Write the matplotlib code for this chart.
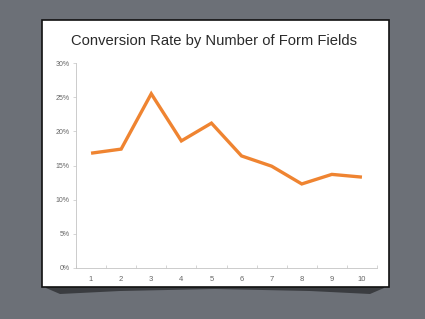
import matplotlib
matplotlib.use("Agg")
import matplotlib.pyplot as plt
from matplotlib.patches import Rectangle, Polygon
from matplotlib.ticker import FixedLocator, PercentFormatter

# Data
form_fields = [1, 2, 3, 4, 5, 6, 7, 8, 9, 10]
conversion_rate = [16.8, 17.4, 25.5, 18.6, 21.2, 16.4, 14.9, 12.3, 13.7, 13.3]
y_ticks = [0, 5, 10, 15, 20, 25, 30]

plt.rcParams["font.family"] = "Liberation Sans"

W, H = 425, 319
fig = plt.figure(figsize=(W / 100, H / 100), dpi=100)
fig.patch.set_facecolor("#6c7077")

# shadow under the card
shadow_x = [46, 60, 120, 215, 310, 370, 384, 384, 46]
shadow_y = [288, 294, 291, 289, 291, 294, 288, 286, 286]
fig.patches.append(Polygon([(x / W, 1 - y / H) for x, y in zip(shadow_x, shadow_y)],
                           closed=True, transform=fig.transFigure,
                           facecolor="#3a3c40", edgecolor="none", zorder=0))

# white card
fig.patches.append(Rectangle((42 / W, 1 - 287 / H), (389 - 42) / W, (287 - 20) / H,
                             transform=fig.transFigure, facecolor="white",
                             edgecolor="#111111", linewidth=1.2, zorder=1))

ax = fig.add_axes([76 / W, 1 - 268 / H, (377 - 76) / W, (268 - 63) / H])
ax.set_facecolor("none")
ax.set_zorder(2)

ax.plot(form_fields, conversion_rate, color="#ef8431", linewidth=2.4,
        solid_joinstyle="miter", solid_capstyle="butt")

ax.set_xlim(0.5, 10.5)
ax.set_ylim(0, 30)
ax.set_xticks(form_fields)
ax.xaxis.set_minor_locator(FixedLocator([i + 0.5 for i in range(0, 11)]))
ax.set_yticks(y_ticks)
ax.yaxis.set_major_formatter(PercentFormatter(decimals=0))

for side in ["top", "right"]:
    ax.spines[side].set_visible(False)
for side in ["left", "bottom"]:
    ax.spines[side].set_color("#c4c4c4")
    ax.spines[side].set_linewidth(0.6)

ax.tick_params(axis="x", which="major", length=0, labelsize=5.5,
               labelcolor="#666666", pad=6)
ax.tick_params(axis="x", which="minor", direction="in", length=2.5,
               width=0.5, color="#c4c4c4")
ax.tick_params(axis="y", length=2.5, width=0.5, color="#c4c4c4",
               labelsize=5, labelcolor="#666666", pad=2)

fig.text(214 / W, 1 - 41 / H, "Conversion Rate by Number of Form Fields",
         ha="center", va="center", fontsize=10.6, color="#2a2a2a", zorder=3)

fig.savefig("out.png", dpi=100, facecolor=fig.get_facecolor())
